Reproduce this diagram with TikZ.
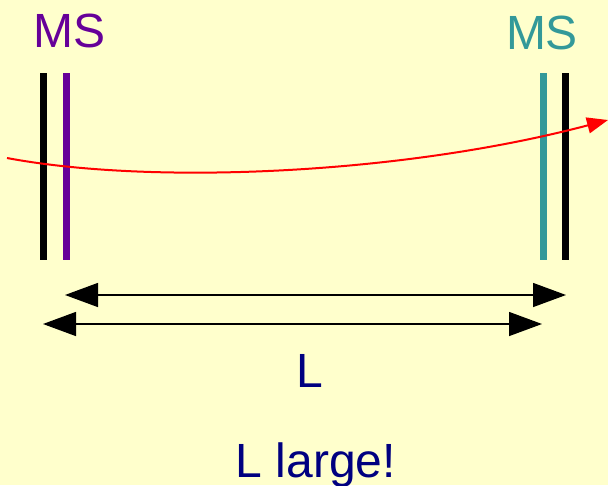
\documentclass[tikz,border=0pt]{standalone}
\usepackage{fontspec}
\setmainfont{Liberation Sans}
\usetikzlibrary{arrows.meta, positioning}
\definecolor{mBack}{HTML}{FFFFCC}
\definecolor{mPurple}{HTML}{660099}
\definecolor{mTeal}{HTML}{339999}
\definecolor{mNavy}{HTML}{000080}

\begin{document}
\begin{tikzpicture}[x=1pt, y=-1pt,
    label/.style={inner sep=0pt, anchor=base, font=\fontsize{48}{58}\selectfont},
    mirror/.style={line width=7pt},
    span/.style={line width=1.4pt, {Triangle[length=33pt,width=24pt]}-{Triangle[length=33pt,width=24pt]}}]
  \fill[mBack] (0,0) rectangle (608,485);
  \useasboundingbox (0,0) rectangle (608,485);

  % mirrors
  \coordinate (m1t) at (43,73);  \coordinate (m1b) at (43,260);
  \coordinate (m2t) at (66,73);  \coordinate (m2b) at (66,260);
  \coordinate (m3t) at (543,73); \coordinate (m3b) at (543,260);
  \coordinate (m4t) at (565,73); \coordinate (m4b) at (565,260);
  \draw[mirror, black] (m1t) -- (m1b);
  \draw[mirror, mPurple] (m2t) -- (m2b);
  \draw[mirror, mTeal] (m3t) -- (m3b);
  \draw[mirror, black] (m4t) -- (m4b);

  \node[label, text=mPurple] (msl) at (70,47) {MS};
  \node[label, text=mTeal] (msr) at (542,49) {MS};

  % beam
  \coordinate (bin) at (7,158);
  \coordinate (bout) at (608,120);
  \draw[red, line width=2pt, -{Triangle[length=21pt,width=16pt]}]
    (bin) .. controls (150,185) and (400,175) .. (bout);

  % lengths
  \coordinate (a1) at (65,295);  \coordinate (a2) at (566,295);
  \coordinate (b1) at (43,324);  \coordinate (b2) at (542,324);
  \draw[span] (a1) -- (a2);
  \draw[span] (b1) -- (b2);

  \node[label, text=mNavy] (len) at (310,387) {L};
  \node[label, text=mNavy] (note) at (316,477) {L large!};
\end{tikzpicture}
\end{document}
